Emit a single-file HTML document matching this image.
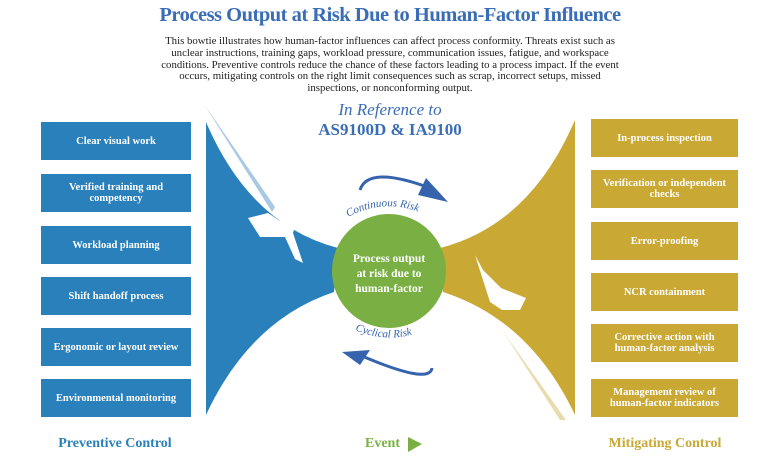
<!DOCTYPE html>
<html><head><meta charset="utf-8"><style>
body{margin:0;width:780px;height:470px;background:#fff;overflow:hidden;font-family:"Liberation Serif",serif}
.t{position:absolute;left:0;width:780px;text-align:center}
.box{position:absolute;width:150px;height:38px;display:flex;align-items:center;justify-content:center;text-align:center;color:#fff;font-weight:bold;font-size:10.5px;line-height:11px;font-family:"Liberation Serif",serif}
.b{background:#2a80ba;left:41px}
.g{background:#c9a834;left:591px;width:147px}
</style></head><body>
<div class="t" style="top:4px;font-size:20.5px;font-weight:bold;color:#3a6db5;letter-spacing:-0.5px">Process Output at Risk Due to Human-Factor Influence</div>
<div class="t" style="top:36px;font-size:10.8px;line-height:11.8px;color:#222;white-space:nowrap">This bowtie illustrates how human-factor influences can affect process conformity. Threats exist such as<br>unclear instructions, training gaps, workload pressure, communication issues, fatigue, and workspace<br>conditions. Preventive controls reduce the chance of these factors leading to a process impact. If the event<br>occurs, mitigating controls on the right limit consequences such as scrap, incorrect setups, missed<br>inspections, or nonconforming output.</div>
<svg style="position:absolute;left:0;top:0" width="780" height="470">
<path d="M206,122 Q250,225 338,248 L334,292 Q250,320 206,415 Z" fill="#2a80ba"/>
<path d="M204,104 L275,207 L272,212 Z" fill="#a9c8e4"/>
<path d="M575,120 Q530,225 440,248 L443,292 Q530,320 575,415 Z" fill="#c9a834"/>
<path d="M502,330 L566,420 L560,420 Z" fill="#e8dcae"/>
<path d="M248,218 l20,-5 l12,8 l18,-4 l-5,16 l10,30 l-8,-4 l-10,-22 l-25,0 z" fill="#fff"/>
<path d="M475,255 l8,15 l18,18 l25,10 l-6,12 l-18,0 l-12,-8 z" fill="#fff"/>
<circle cx="389" cy="271" r="57" fill="#7ab043"/>
<text x="389" y="262" text-anchor="middle" font-size="11.5" font-weight="bold" fill="#fff" font-family="Liberation Serif">Process output</text>
<text x="389" y="277" text-anchor="middle" font-size="11.5" font-weight="bold" fill="#fff" font-family="Liberation Serif">at risk due to</text>
<text x="389" y="292" text-anchor="middle" font-size="11.5" font-weight="bold" fill="#fff" font-family="Liberation Serif">human-factor</text>
<path d="M360,190 Q368,165 430,188" stroke="#3563ad" stroke-width="3" fill="none"/>
<path d="M426,178 L448,202 L418,195 Z" fill="#3563ad"/>
<path d="M432,368 Q430,385 362,356" stroke="#3563ad" stroke-width="3" fill="none"/>
<path d="M342,352 L370,350 L360,365 Z" fill="#3563ad"/>
<path id="a1" d="M348,217 Q390,195 432,218" fill="none"/>
<text font-size="11" font-style="italic" fill="#3563ad" font-family="Liberation Serif"><textPath href="#a1">Continuous Risk</textPath></text>
<path id="a2" d="M355,330 Q390,345 425,330" fill="none"/>
<text font-size="11" font-style="italic" fill="#3563ad" font-family="Liberation Serif"><textPath href="#a2">Cyclical Risk</textPath></text>
<path d="M408,437 L422,444 L408,452 Z" fill="#7ab043"/>
</svg>
<div class="t" style="top:100px;font-size:17px;font-style:italic;color:#3a6db5">In Reference to</div>
<div class="t" style="top:120px;font-size:17px;font-weight:bold;color:#3a6db5">AS9100D &amp; IA9100</div>
<div class="box b" style="top:122px">Clear visual work</div>
<div class="box b" style="top:174px">Verified training and<br>competency</div>
<div class="box b" style="top:226px">Workload planning</div>
<div class="box b" style="top:277px">Shift handoff process</div>
<div class="box b" style="top:328px">Ergonomic or layout review</div>
<div class="box b" style="top:379px">Environmental monitoring</div>
<div class="box g" style="top:119px">In-process inspection</div>
<div class="box g" style="top:170px">Verification or independent<br>checks</div>
<div class="box g" style="top:222px">Error-proofing</div>
<div class="box g" style="top:273px">NCR containment</div>
<div class="box g" style="top:324px">Corrective action with<br>human-factor analysis</div>
<div class="box g" style="top:379px">Management review of<br>human-factor indicators</div>
<div style="position:absolute;left:40px;width:150px;text-align:center;top:436px;font-size:14px;font-weight:bold;color:#2a80ba">Preventive Control</div>
<div style="position:absolute;left:365px;top:436px;font-size:14px;font-weight:bold;color:#7ab043">Event</div>
<div style="position:absolute;left:590px;width:150px;text-align:center;top:436px;font-size:14px;font-weight:bold;color:#c9a834">Mitigating Control</div>
</body></html>
